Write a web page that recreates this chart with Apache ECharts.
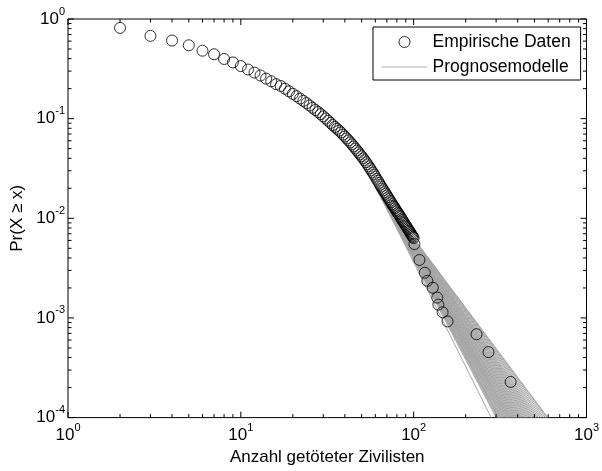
<!DOCTYPE html>
<html><head><meta charset="utf-8">
<script src="https://cdn.jsdelivr.net/npm/echarts@6/dist/echarts.min.js"></script>
<style>html,body{margin:0;padding:0;background:#fff}#c{width:602px;height:471px}</style>
</head><body><div id="c"></div>
<script>
const empiricalX = [2,3,4,5,6,7,8,9,10,11,12,13,14,15,16,17,18,19,20,21,22,23,24,25,26,27,28,29,30,
  31,32,33,34,35,36,37,38,39,40,41,42,43,44,45,46,47,48,49,50,51,52,53,54,55,56,57,58,59,60,
  61,62,63,64,65,66,67,68,69,70,71,72,73,74,75,76,77,78,79,80,81,82,83,84,85,86,87,88,89,90,
  91,92,93,94,95,96,97,98,99,100,101,108,116,120,129,137,139,147,157,231,271,364];
const empiricalY = [0.814,0.677,0.608,0.545,0.481,0.443,0.397,0.367,0.337,0.311,0.290,0.271,0.252,0.237,0.222,0.213,0.1995,0.188,0.1774,0.168,0.159,0.151,0.143,0.1356,0.1285,0.122,0.1166,0.111,0.1054,
  0.1003,0.0953,0.0907,0.0863,0.0826,0.0791,0.0758,0.0727,0.0693,0.0662,0.0632,0.0604,0.0577,0.0551,0.0526,0.0502,0.0479,0.0458,0.0437,0.0419,0.0400,0.0382,0.0365,0.0348,0.0332,0.0317,0.0302,0.0288,0.0275,0.0262,
  0.0249,0.0238,0.0227,0.0217,0.0208,0.0199,0.0191,0.0183,0.0176,0.0169,0.0162,0.0156,0.0150,0.0145,0.0139,0.0134,0.0130,0.0126,0.0121,0.0117,0.0113,0.0110,0.0106,0.0103,0.00991,0.00960,0.00931,0.00904,0.00874,0.00846,
  0.00821,0.00797,0.00774,0.00751,0.00731,0.00709,0.00689,0.00668,0.00650,0.00633,0.00551,0.00382,0.00284,0.00236,0.00201,0.0016,0.00136,0.00114,0.000923,0.000686,0.000454,0.000228];

// Forecast model lines: start point and end point (at the bottom of the plot)
const modelStartX = [62,60,62,64,61,63,60,62,64,61,63,60,62,64,61,63,60,62,64,61,63,60,62,64,61,63,60,62,64,61,63,60,62,64,61,63,60,62,64,61,63,60,62,64,61,63,60,62,64];
const modelStartY = [0.0190,0.0205,0.0190,0.0178,0.0198,0.0184,0.0205,0.0190,0.0178,0.0198,0.0184,0.0205,0.0190,0.0178,0.0198,0.0184,0.0205,0.0190,0.0178,0.0198,0.0184,0.0205,0.0190,0.0178,0.0198,0.0184,0.0205,0.0190,0.0178,0.0198,0.0184,0.0205,0.0190,0.0178,0.0198,0.0184,0.0205,0.0190,0.0178,0.0198,0.0184,0.0205,0.0190,0.0178,0.0198,0.0184,0.0205,0.0190,0.0178];
const modelEndX = [281,300,304,308,311,314,318,322,326,330,334,338,342,346,350,354,358,362,366,370,375,380,385,390,395,400,406,412,418,424,430,437,444,451,458,466,474,482,490,499,508,518,528,540,552,565,578,590,597];
const modelEndY = 0.0001;

// Axis ticks
const xTickMajor = [1,10,100,1000];
const xTickMinor = [2,3,4,5,6,7,8,9,20,30,40,50,60,70,80,90,200,300,400,500,600,700,800,900];
const yTickMajor = [0.0001,0.001,0.01,0.1,1];
const yTickMinor = [0.0002,0.0003,0.0004,0.0005,0.0006,0.0007,0.0008,0.0009,
  0.002,0.003,0.004,0.005,0.006,0.007,0.008,0.009,
  0.02,0.03,0.04,0.05,0.06,0.07,0.08,0.09,
  0.2,0.3,0.4,0.5,0.6,0.7,0.8,0.9];

const FONT = "'Liberation Sans', Arial, Helvetica, sans-serif";
const chart = echarts.init(document.getElementById('c'), null, {renderer: 'canvas'});

function powLabel(v) {
  const n = Math.round(Math.log10(v));
  return '{b|10}{s|' + n + '}';
}
const rich = {
  b: {fontSize: 17, lineHeight: 26, fontFamily: FONT, color: '#000', verticalAlign: 'middle'},
  s: {fontSize: 11, lineHeight: 11, fontFamily: FONT, color: '#000', verticalAlign: 'top'}
};

const series = [];
for (let i = 0; i < modelStartX.length; i++) {
  series.push({
    name: 'Prognosemodelle', type: 'line', symbol: 'none', silent: true, z: 2,
    lineStyle: {color: '#a4a4a4', width: 1},
    itemStyle: {color: '#a4a4a4'},
    data: [[modelStartX[i], modelStartY[i]], [modelEndX[i], modelEndY]]
  });
}
series.push({
  name: 'Empirische Daten', type: 'scatter', symbol: 'circle', symbolSize: 11, z: 5, silent: true,
  itemStyle: {color: 'rgba(255,255,255,0)', borderColor: '#000', borderWidth: 1},
  data: empiricalX.map((x, i) => [x, empiricalY[i]])
});
const MAJ = 6, MIN = 3.5;
series.push({
  type: 'custom', coordinateSystem: 'cartesian2d', silent: true, z: 10, clip: false,
  encode: {x: 0, y: 1},
  data: xTickMajor.map(v => [v, 0.0001, 1]).concat(xTickMinor.map(v => [v, 0.0001, 0])),
  renderItem: function (params, api) {
    const v = api.value(0), len = api.value(2) ? MAJ : MIN;
    const pb = api.coord([v, 0.0001]), pt = api.coord([v, 1]);
    const st = {stroke: '#000', lineWidth: 1};
    return {type: 'group', children: [
      {type: 'line', shape: {x1: pb[0], y1: pb[1], x2: pb[0], y2: pb[1] - len}, style: st},
      {type: 'line', shape: {x1: pt[0], y1: pt[1], x2: pt[0], y2: pt[1] + len}, style: st}
    ]};
  }
});
series.push({
  type: 'custom', coordinateSystem: 'cartesian2d', silent: true, z: 10, clip: false,
  encode: {x: 0, y: 1},
  data: yTickMajor.map(v => [1, v, 1]).concat(yTickMinor.map(v => [1, v, 0])),
  renderItem: function (params, api) {
    const v = api.value(1), len = api.value(2) ? MAJ : MIN;
    const pl = api.coord([1, v]), pr = api.coord([1000, v]);
    const st = {stroke: '#000', lineWidth: 1};
    return {type: 'group', children: [
      {type: 'line', shape: {x1: pl[0], y1: pl[1], x2: pl[0] + len, y2: pl[1]}, style: st},
      {type: 'line', shape: {x1: pr[0], y1: pr[1], x2: pr[0] - len, y2: pr[1]}, style: st}
    ]};
  }
});

chart.setOption({
  animation: false,
  backgroundColor: '#fff',
  grid: {left: 68, top: 19, right: 15, bottom: 50, show: true, borderColor: '#000', borderWidth: 1, backgroundColor: '#fff'},
  legend: {
    orient: 'vertical', left: 373, top: 27, padding: [6, 10, 4, 8],
    itemWidth: 46, itemHeight: 11, itemGap: 7,
    backgroundColor: '#fff', borderColor: '#000', borderWidth: 1, borderRadius: 0,
    selectedMode: false,
    textStyle: {fontSize: 17.5, color: '#000', fontFamily: FONT, lineHeight: 18},
    data: [
      {name: 'Empirische Daten', icon: 'circle', itemStyle: {color: 'rgba(255,255,255,0)', borderColor: '#000', borderWidth: 1}},
      {name: 'Prognosemodelle', itemStyle: {opacity: 0}, lineStyle: {color: '#b0b0b0', width: 1}}
    ]
  },
  xAxis: {
    type: 'log', logBase: 10, min: 1, max: 1000,
    axisLine: {show: false}, axisTick: {show: false}, splitLine: {show: false},
    axisLabel: {formatter: powLabel, rich: rich, margin: 5},
    name: 'Anzahl getöteter Zivilisten', nameLocation: 'middle', nameGap: 31,
    nameTextStyle: {fontSize: 17, color: '#000', fontFamily: FONT}
  },
  yAxis: {
    type: 'log', logBase: 10, min: 0.0001, max: 1,
    axisLine: {show: false}, axisTick: {show: false}, splitLine: {show: false},
    axisLabel: {formatter: powLabel, rich: rich, margin: 3},
    name: 'Pr(X ≥ x)', nameLocation: 'middle', nameGap: 42,
    nameTextStyle: {fontSize: 17, color: '#000', fontFamily: FONT}
  },
  series: series
});
</script></body></html>
